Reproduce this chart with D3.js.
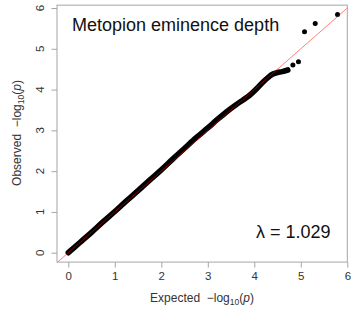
<!DOCTYPE html>
<html>
<head>
<meta charset="utf-8">
<script src="https://cdn.jsdelivr.net/npm/d3@7"></script>
<style>
  body { margin: 0; background: #fff; }
  svg text { font-family: Arial, "Liberation Sans", sans-serif; }
</style>
</head>
<body>
<script>
// dense band of points (expected vs observed -log10 p)
const bulkExpected = [0, 0.25, 0.5, 0.75, 1.0, 1.25, 1.5, 1.75, 2.0, 2.25, 2.5, 2.75, 3.0, 3.2, 3.4, 3.6, 3.75, 3.9, 4.05, 4.2, 4.3, 4.4, 4.5, 4.6, 4.72];
const bulkObserved = [0, 0.25, 0.5, 0.76, 1.01, 1.27, 1.52, 1.78, 2.03, 2.3, 2.56, 2.82, 3.06, 3.26, 3.45, 3.62, 3.74, 3.86, 4.02, 4.2, 4.3, 4.38, 4.42, 4.44, 4.48];
// isolated top hits
const tailExpected = [4.83, 4.95, 5.08, 5.31, 5.79];
const tailObserved = [4.6, 4.68, 5.42, 5.62, 5.84];
const ticks = [0, 1, 2, 3, 4, 5, 6];
const title = 'Metopion eminence depth';
const lambdaLabel = 'λ = 1.029';

const W = 351, H = 309;
const box = { left: -0.243, right: 6, bottom: -0.23, top: 6.07 };

const x = d3.scaleLinear().domain([0, 6]).range([68.3, 347.3]);
const y = d3.scaleLinear().domain([0, 6]).range([252.7, 8]);

const svg = d3.select('body').append('svg')
    .attr('width', W)
    .attr('height', H);

const bulk = bulkExpected.map((e, i) => [e, bulkObserved[i]]);
const tail = tailExpected.map((e, i) => [e, tailObserved[i]]);

// points
svg.append('path')
    .datum(bulk)
    .attr('d', d3.line().x(d => x(d[0])).y(d => y(d[1])).curve(d3.curveMonotoneX))
    .attr('fill', 'none')
    .attr('stroke', '#000')
    .attr('stroke-width', 5.6)
    .attr('stroke-linecap', 'round')
    .attr('stroke-linejoin', 'round');

svg.selectAll('.tail')
    .data(tail)
    .enter().append('circle')
    .attr('class', 'tail')
    .attr('cx', d => x(d[0]))
    .attr('cy', d => y(d[1]))
    .attr('r', 2.5)
    .attr('fill', '#000');

// y = x reference line
svg.append('line')
    .attr('x1', x(box.left)).attr('y1', y(box.left))
    .attr('x2', x(box.right)).attr('y2', y(box.right))
    .attr('stroke', 'red')
    .attr('stroke-opacity', 0.5)
    .attr('stroke-width', 1);

// frame
svg.append('rect')
    .attr('x', x(box.left))
    .attr('y', y(box.top))
    .attr('width', x(box.right) - x(box.left))
    .attr('height', y(box.bottom) - y(box.top))
    .attr('fill', 'none')
    .attr('stroke', '#a6a6a6')
    .attr('stroke-width', 1);

// axes
const xAxis = svg.append('g')
    .attr('transform', `translate(0,${y(box.bottom)})`)
    .call(d3.axisBottom(x).tickValues(ticks).tickSize(5.5).tickPadding(4)
        .tickSizeOuter(0).tickFormat(d3.format('d')));
const yAxis = svg.append('g')
    .attr('transform', `translate(${x(box.left)},0)`)
    .call(d3.axisLeft(y).tickValues(ticks).tickSize(5.5).tickSizeOuter(0).tickFormat(''));

[xAxis, yAxis].forEach((g) => {
    g.select('.domain').remove();
    g.selectAll('line').attr('stroke', '#a6a6a6');
});
xAxis.selectAll('text')
    .attr('fill', '#333')
    .style('font-size', '11.5px');
// last label sits at the window edge, keep it inside
xAxis.selectAll('.tick').filter(d => d === 6).select('text')
    .attr('text-anchor', 'end')
    .attr('dx', '0.28em');

svg.selectAll('.ylab')
    .data(ticks)
    .enter().append('text')
    .attr('class', 'ylab')
    .attr('transform', d => `translate(44,${y(d)}) rotate(-90)`)
    .attr('text-anchor', 'middle')
    .attr('fill', '#333')
    .style('font-size', '11.5px')
    .text(d => d);

// axis titles with subscript
function logLabel(sel, word) {
    sel.style('white-space', 'pre');
    sel.append('tspan').text(word + '  \u2212log');
    sel.append('tspan').attr('font-size', '8.5px').attr('dy', 3).text('10');
    sel.append('tspan').attr('dy', -3).text('(');
    sel.append('tspan').attr('font-style', 'italic').text('p');
    sel.append('tspan').text(')');
}

svg.append('text')
    .attr('x', 202)
    .attr('y', 302)
    .attr('text-anchor', 'middle')
    .attr('fill', '#333')
    .style('font-size', '12px')
    .call(logLabel, 'Expected');

svg.append('text')
    .attr('transform', 'translate(21,133) rotate(-90)')
    .attr('text-anchor', 'middle')
    .attr('fill', '#333')
    .style('font-size', '12px')
    .call(logLabel, 'Observed');

svg.append('text')
    .attr('x', 72)
    .attr('y', 31)
    .attr('fill', '#111')
    .style('font-size', '18px')
    .text(title);

svg.append('text')
    .attr('x', 256)
    .attr('y', 238)
    .attr('fill', '#111')
    .style('font-size', '18px')
    .text(lambdaLabel);
</script>
</body>
</html>
